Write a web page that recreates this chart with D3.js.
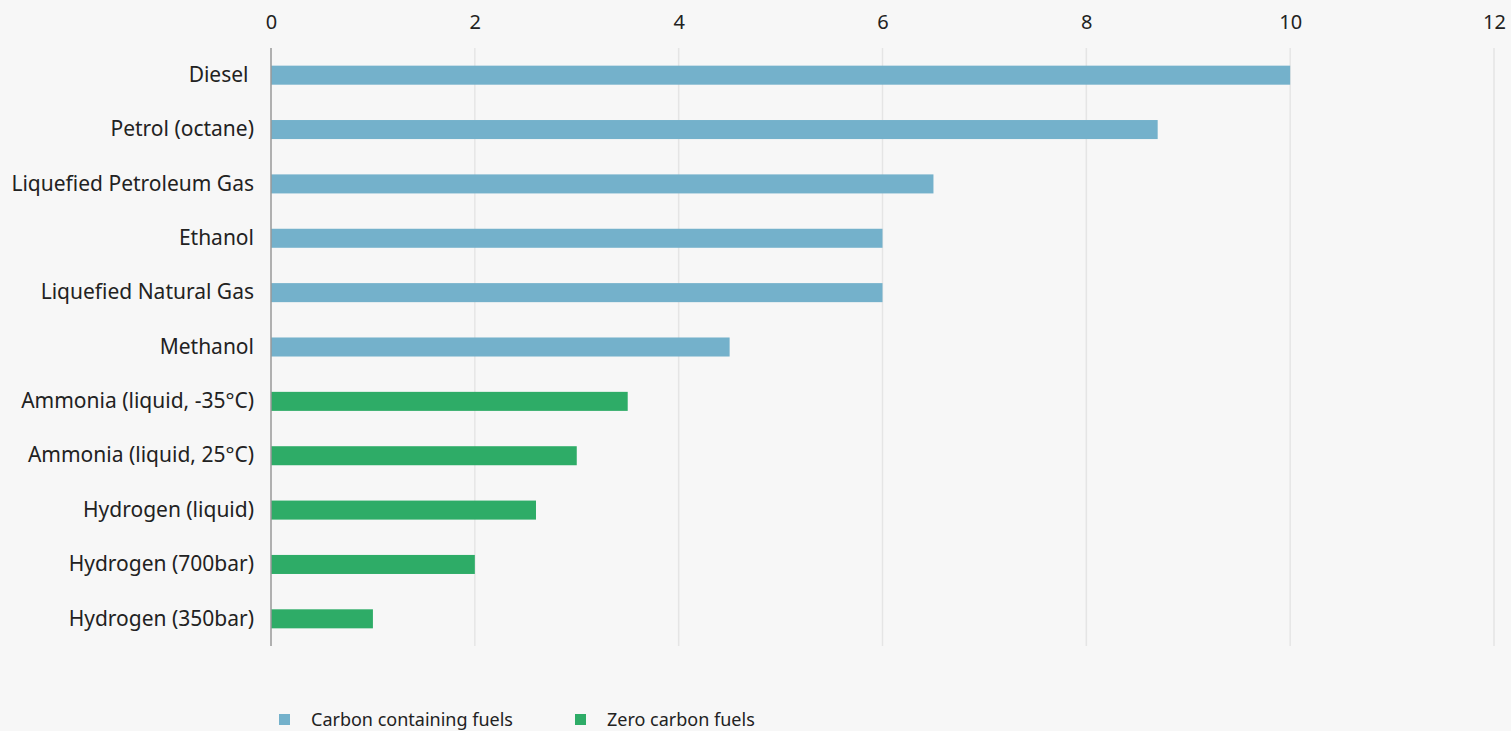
<!DOCTYPE html>
<html>
<head>
<meta charset="utf-8">
<script src="https://cdn.jsdelivr.net/npm/d3@7"></script>
<style>
  html, body { margin: 0; padding: 0; background: #f7f7f7; }
  svg { display: block; }
  .lbl { white-space: pre; }
</style>
</head>
<body>
<svg id="chart" width="1511" height="731"></svg>
<script>
// Fuel categories, top to bottom
const fuels = [
  "Diesel ",
  "Petrol (octane)",
  "Liquefied Petroleum Gas",
  "Ethanol",
  "Liquefied Natural Gas",
  "Methanol",
  "Ammonia (liquid, -35°C)",
  "Ammonia (liquid, 25°C)",
  "Hydrogen (liquid)",
  "Hydrogen (700bar)",
  "Hydrogen (350bar)"
];
// Energy density values
const values = [10, 8.7, 6.5, 6.0, 6.0, 4.5, 3.5, 3.0, 2.6, 2.0, 1.0];
// Group of each fuel
const groups = ["carbon", "carbon", "carbon", "carbon", "carbon", "carbon",
                "zero", "zero", "zero", "zero", "zero"];
const xTicks = [0, 2, 4, 6, 8, 10, 12];
const legendKeys = ["carbon", "zero"];
const legendLabels = ["Carbon containing fuels", "Zero carbon fuels"];

const colors = { carbon: "#74b1cb", zero: "#2eac67" };
const FONT = '"Noto Sans", "Open Sans", sans-serif';

const svg = d3.select("#chart");
const plotLeft = 271, plotRight = 1494, plotTop = 48, plotBottom = 646;

const x = d3.scaleLinear().domain([0, 12]).range([plotLeft, plotRight]);
const y = d3.scaleBand().domain(fuels).range([plotTop, plotBottom])
  .paddingInner(0.65).paddingOuter(0.325);

// vertical gridlines
svg.append("g").selectAll("line").data(xTicks.filter(d => d > 0)).join("line")
  .attr("x1", d => x(d)).attr("x2", d => x(d))
  .attr("y1", plotTop).attr("y2", plotBottom)
  .attr("stroke", "#e5e5e5").attr("stroke-width", 1.5);

// top axis labels
const xAxis = d3.axisTop(x).tickValues(xTicks).tickSize(0).tickPadding(0);
const gx = svg.append("g").attr("transform", `translate(0,29)`).call(xAxis)
  .attr("font-family", FONT).attr("font-size", 20);
gx.select(".domain").remove();
gx.selectAll("text").attr("fill", "#222");

// bars
const data = fuels.map((f, i) => ({ f, v: values[i], g: groups[i] }));
svg.append("g").selectAll("rect").data(data).join("rect")
  .attr("x", x(0))
  .attr("y", d => y(d.f))
  .attr("width", d => x(d.v) - x(0))
  .attr("height", y.bandwidth())
  .attr("fill", d => colors[d.g]);

// category axis
const yAxis = d3.axisLeft(y).tickSize(0).tickPadding(17);
const gy = svg.append("g").attr("transform", `translate(${plotLeft},0)`).call(yAxis)
  .attr("font-family", FONT).attr("font-size", 21);
gy.select(".domain").attr("stroke", "#999").attr("stroke-width", 1.5)
  .attr("d", `M0,${plotTop}V${plotBottom}`);
gy.selectAll("text").attr("class", "lbl").attr("fill", "#222");

// legend
const lg = svg.append("g").attr("font-family", FONT).attr("font-size", 18);
const legendX = [279, 575];
legendKeys.forEach((k, i) => {
  lg.append("rect").attr("x", legendX[i]).attr("y", 714)
    .attr("width", 11).attr("height", 11).attr("fill", colors[k]);
  lg.append("text").attr("x", legendX[i] + 32).attr("y", 726)
    .attr("fill", "#222").text(legendLabels[i]);
});
</script>
</body>
</html>
